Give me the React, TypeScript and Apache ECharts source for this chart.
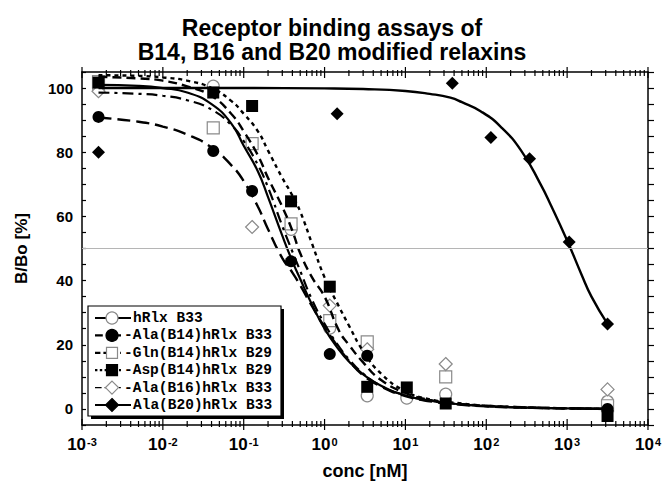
import React, { useEffect, useRef } from "react";
import * as echarts from "echarts";

// ---- fitted curves ----
const fitConc = [0.0016, 0.005, 0.01, 0.02, 0.04, 0.07, 0.1, 0.15, 0.2, 0.3, 0.4, 0.5, 0.7, 1, 1.5, 2, 3, 5, 10, 20, 50, 100, 300, 1000, 3160];
const hRlxFit = [101, 100.7, 100, 98.6, 95, 89, 82, 74, 66, 54, 46, 40.5, 32.5, 25, 18.5, 14.8, 10.8, 7.2, 4.2, 2.6, 1.4, 0.9, 0.4, 0.2, 0];
const alaB14Fit = [90.8, 89.5, 88, 85.5, 81.5, 76, 71, 63, 56, 47, 42.5, 38.5, 32, 25.5, 19, 15, 10.5, 7, 4, 2.4, 1.3, 0.8, 0.4, 0.2, 0];
const glnB14Fit = [103.5, 103, 102.3, 100.5, 97.5, 92, 86.5, 79, 72, 63, 55.5, 48.5, 41, 35, 24.5, 20, 14.5, 9, 5, 2.8, 1.5, 1, 0.5, 0.2, 0];
const aspB14Fit = [104, 103.8, 103.3, 102.3, 100, 96, 92, 86.5, 80.5, 72, 66.5, 61.5, 51.5, 41, 32, 26, 18, 11, 5.5, 3, 1.7, 1, 0.5, 0.2, 0];
const alaB16Fit = [98.6, 98.2, 97.6, 96.2, 93.3, 88.5, 83.5, 76, 69, 57, 49, 43, 34, 26.5, 19.5, 15.5, 11, 7.2, 4.2, 2.6, 1.4, 0.9, 0.4, 0.2, 0];
const alaB20FitConc = [0.0016, 0.01, 0.1, 1, 3, 10, 20, 36, 50, 85, 150, 270, 470, 630, 1000, 1500, 2000, 3160];
const alaB20Fit = [100, 100, 100, 99.9, 99.7, 99.1, 98.2, 97, 95.6, 92.8, 88, 80.5, 70, 63.5, 52.5, 42, 35, 26.5];

// ---- measured points ----
const hRlxConc = [0.0016, 0.042, 0.385, 1.16, 3.37, 10.4, 31.5, 3160];
const hRlxVal = [100, 100.6, 56, 25.2, 4.1, 3.4, 4.6, 2.3];
const alaB14Conc = [0.0016, 0.042, 0.127, 0.385, 1.16, 3.37, 3160];
const alaB14Val = [91, 80.4, 67.9, 46, 17.1, 16.6, 0];
const glnB14Conc = [0.0016, 0.042, 0.127, 0.385, 1.16, 3.37, 31.5, 3160];
const glnB14Val = [102, 87.6, 82.7, 57.7, 27.5, 20.9, 10, 1];
const aspB14Conc = [0.0016, 0.042, 0.127, 0.385, 1.16, 3.37, 10.4, 31.5, 3160];
const aspB14Val = [101.7, 98.6, 94.4, 64.7, 38.1, 6.9, 6.7, 1.7, -2.2];
const alaB16Conc = [0.0016, 0.127, 1.16, 3.37, 31.5, 3160];
const alaB16Val = [99, 56.7, 32.2, 18.6, 14, 6.1];
const alaB20Conc = [0.0016, 1.43, 38, 114, 343, 1060, 3160];
const alaB20Val = [80, 92, 101.5, 84.6, 78, 52, 26.5];

// ---- axes / labels ----
const xMajorTicks = [0.001, 0.01, 0.1, 1, 10, 100, 1000, 10000];
const xTickExps = ["-3", "-2", "-1", "0", "1", "2", "3", "4"];
const yTickLabels = [0, 20, 40, 60, 80, 100];
const legendLabels = [
  "hRlx B33",
  "-Ala(B14)hRlx B33",
  "-Gln(B14)hRlx B29",
  "-Asp(B14)hRlx B29",
  "-Ala(B16)hRlx B33",
  "Ala(B20)hRlx B33",
];
const refLine = 50;

const Y_MIN = -5;
const Y_MAX = 105;
const SANS = "'Liberation Sans', Arial, Helvetica, sans-serif";
const MONO = "'Liberation Mono', 'Courier New', monospace";

const pair = (xs: number[], ys: number[]) => xs.map((x, i) => [x, ys[i]]);

const styles = [
  { dash: "solid" as any, width: 2.2, symbol: "circle", filled: false, size: 12 },
  { dash: [13, 6], width: 2.4, symbol: "circle", filled: true, size: 12 },
  { dash: [9, 5], width: 2.4, symbol: "rect", filled: false, size: 12 },
  { dash: [4, 4], width: 2.4, symbol: "rect", filled: true, size: 12 },
  { dash: [11, 5, 3, 5], width: 2.2, symbol: "diamond", filled: false, size: 13 },
  { dash: "solid" as any, width: 2.4, symbol: "diamond", filled: true, size: 13 },
];

export default function App() {
  const ref = useRef<HTMLDivElement>(null);
  useEffect(() => {
    if (!ref.current) return;
    const chart = echarts.init(ref.current, undefined, { renderer: "svg" });

    const fits = [
      pair(fitConc, hRlxFit),
      pair(fitConc, alaB14Fit),
      pair(fitConc, glnB14Fit),
      pair(fitConc, aspB14Fit),
      pair(fitConc, alaB16Fit),
      pair(alaB20FitConc, alaB20Fit),
    ];
    const pts = [
      pair(hRlxConc, hRlxVal),
      pair(alaB14Conc, alaB14Val),
      pair(glnB14Conc, glnB14Val),
      pair(aspB14Conc, aspB14Val),
      pair(alaB16Conc, alaB16Val),
      pair(alaB20Conc, alaB20Val),
    ];

    const tickData: number[][] = [];
    xMajorTicks.forEach((d, i) => {
      tickData.push([d, Y_MIN, 1]);
      if (i < xMajorTicks.length - 1) {
        for (let m = 2; m <= 9; m++) tickData.push([d * m, Y_MIN, 0]);
      }
    });

    const series: any[] = [];
    series.push({
      type: "line",
      data: [],
      silent: true,
      markLine: {
        silent: true,
        symbol: "none",
        label: { show: false },
        lineStyle: { color: "#b5b5b5", width: 1, type: "solid" },
        data: [{ yAxis: refLine }],
      },
      z: 1,
    });
    fits.forEach((d, i) => {
      series.push({
        type: "line",
        data: d,
        smooth: true,
        showSymbol: false,
        symbol: "none",
        lineStyle: { color: "#000", width: styles[i].width, type: styles[i].dash },
        z: 3,
      });
    });
    pts.forEach((d, i) => {
      const s = styles[i];
      series.push({
        type: "scatter",
        data: d,
        symbol: s.symbol,
        symbolSize: s.size,
        itemStyle: s.filled
          ? { color: "#000", borderColor: "#000", borderWidth: 0, opacity: 1 }
          : { color: "#fff", borderColor: "#8a8a8a", borderWidth: 1.2, opacity: 1 },
        z: s.filled ? 4 : 2,
      });
    });
    series.push({
      type: "custom",
      data: tickData,
      encode: { x: 0, y: 1 },
      silent: true,
      clip: false,
      z: 5,
      renderItem: (params: any, api: any) => {
        const v = api.value(0);
        const major = api.value(2) === 1;
        const b = api.coord([v, Y_MIN]);
        const t = api.coord([v, Y_MAX]);
        const inL = major ? 6 : 4;
        const outL = major ? 5 : 2;
        return {
          type: "group",
          children: [
            { type: "line", shape: { x1: b[0], y1: b[1] - inL, x2: b[0], y2: b[1] + outL }, style: { stroke: "#000", lineWidth: 1.2 } },
            { type: "line", shape: { x1: t[0], y1: t[1] + inL, x2: t[0], y2: t[1] - outL }, style: { stroke: "#000", lineWidth: 1.2 } },
          ],
        };
      },
    });

    // legend graphic
    const lgX = 88, lgY = 306, lgW = 193, lgH = 110;
    const graphics: any[] = [
      { type: "rect", shape: { x: lgX + 3, y: lgY + 3, width: lgW, height: lgH }, style: { fill: "#000" }, z: 50 },
      { type: "rect", shape: { x: lgX, y: lgY, width: lgW, height: lgH }, style: { fill: "#fff", stroke: "#000", lineWidth: 1.2 }, z: 51 },
    ];
    const lineEnds = [131, 121, 121, 121, 121, 131];
    legendLabels.forEach((lab, i) => {
      const cy = 318 + i * 17.4;
      const s = styles[i];
      const cx = 112;
      graphics.push({
        type: "line",
        shape: { x1: 95, y1: cy, x2: lineEnds[i], y2: cy },
        style: { stroke: "#000", lineWidth: i === 4 ? 1.4 : 2.2, lineDash: Array.isArray(s.dash) ? s.dash.map((v: number) => v * 0.6) : null },
        z: 52,
      });
      const fill = s.filled ? "#000" : "#fff";
      const stroke = s.filled ? "#000" : "#8a8a8a";
      if (s.symbol === "circle") {
        graphics.push({ type: "circle", shape: { cx, cy, r: 6 }, style: { fill, stroke, lineWidth: 1.2 }, z: 53 });
      } else if (s.symbol === "rect") {
        graphics.push({ type: "rect", shape: { x: cx - 5.5, y: cy - 5.5, width: 11, height: 11 }, style: { fill, stroke, lineWidth: 1.2 }, z: 53 });
      } else {
        graphics.push({
          type: "polygon",
          shape: { points: [[cx, cy - 6.5], [cx + 6.5, cy], [cx, cy + 6.5], [cx - 6.5, cy]] },
          style: { fill, stroke, lineWidth: 1.2 },
          z: 53,
        });
      }
      graphics.push({
        type: "text",
        x: lab.startsWith("-") ? 124 : 133,
        y: cy,
        style: { text: lab, font: `bold 14.5px ${MONO}`, fill: "#000", verticalAlign: "middle", textAlign: "left" },
        z: 53,
      });
    });

    const option: any = {
      animation: false,
      backgroundColor: "#fff",
      title: {
        text: "Receptor binding assays of\nB14, B16 and B20 modified relaxins",
        left: "center",
        top: 11,
        textStyle: { fontSize: 23, fontWeight: "bold", fontFamily: SANS, color: "#000", lineHeight: 24 },
      },
      grid: { left: 82, top: 72, right: 16, bottom: 61 },
      xAxis: [
        {
          type: "log",
          logBase: 10,
          min: 0.001,
          max: 10000,
          splitNumber: 7,
          name: "conc [nM]",
          nameLocation: "middle",
          nameGap: 37,
          nameTextStyle: { fontSize: 18, fontWeight: "bold", fontFamily: SANS, color: "#000" },
          axisLine: { show: true, onZero: false, lineStyle: { color: "#000", width: 1.5 } },
          axisTick: { show: false },
          splitLine: { show: false },
          minorTick: { show: false },
          axisLabel: {
            margin: 11,
            formatter: (v: number) => {
              const e = Math.round(Math.log10(v));
              return `{b|10}{s|${xTickExps[e + 3]}}`;
            },
            rich: {
              b: { fontSize: 17, fontWeight: "bold", fontFamily: SANS, color: "#000" },
              s: { fontSize: 11, fontWeight: "bold", fontFamily: SANS, color: "#000", verticalAlign: "top", padding: [0, 0, 6, 1] },
            },
          },
        },
        {
          type: "log",
          logBase: 10,
          min: 0.001,
          max: 10000,
          splitNumber: 7,
          position: "top",
          axisLine: { show: true, onZero: false, lineStyle: { color: "#000", width: 1.5 } },
          axisTick: { show: false },
          axisLabel: { show: false },
          splitLine: { show: false },
        },
      ],
      yAxis: [
        {
          type: "value",
          min: Y_MIN,
          max: Y_MAX,
          interval: 5,
          name: "B/Bo [%]",
          nameLocation: "middle",
          nameGap: 52,
          nameRotate: 90,
          nameTextStyle: { fontSize: 17, fontWeight: "bold", fontFamily: SANS, color: "#000" },
          axisLine: { show: true, onZero: false, lineStyle: { color: "#000", width: 1.5 } },
          axisTick: { show: true, inside: true, length: 4, lineStyle: { color: "#000", width: 1.2 } },
          splitLine: { show: false },
          axisLabel: {
            margin: 9,
            fontSize: 15,
            fontWeight: "bold",
            fontFamily: SANS,
            color: "#000",
            formatter: (v: number) => (yTickLabels.includes(v) ? String(v) : ""),
          },
        },
        {
          type: "value",
          min: Y_MIN,
          max: Y_MAX,
          interval: 5,
          position: "right",
          axisLine: { show: true, onZero: false, lineStyle: { color: "#000", width: 1.5 } },
          axisTick: { show: true, inside: false, length: 6, lineStyle: { color: "#000", width: 1.2 } },
          axisLabel: { show: false },
          splitLine: { show: false },
        },
      ],
      series,
      graphic: graphics,
    };
    chart.setOption(option);
    return () => chart.dispose();
  }, []);

  return (
    <div
      ref={ref}
      style={{ position: "fixed", left: 0, top: 0, width: 664, height: 486, background: "#fff" }}
    />
  );
}
